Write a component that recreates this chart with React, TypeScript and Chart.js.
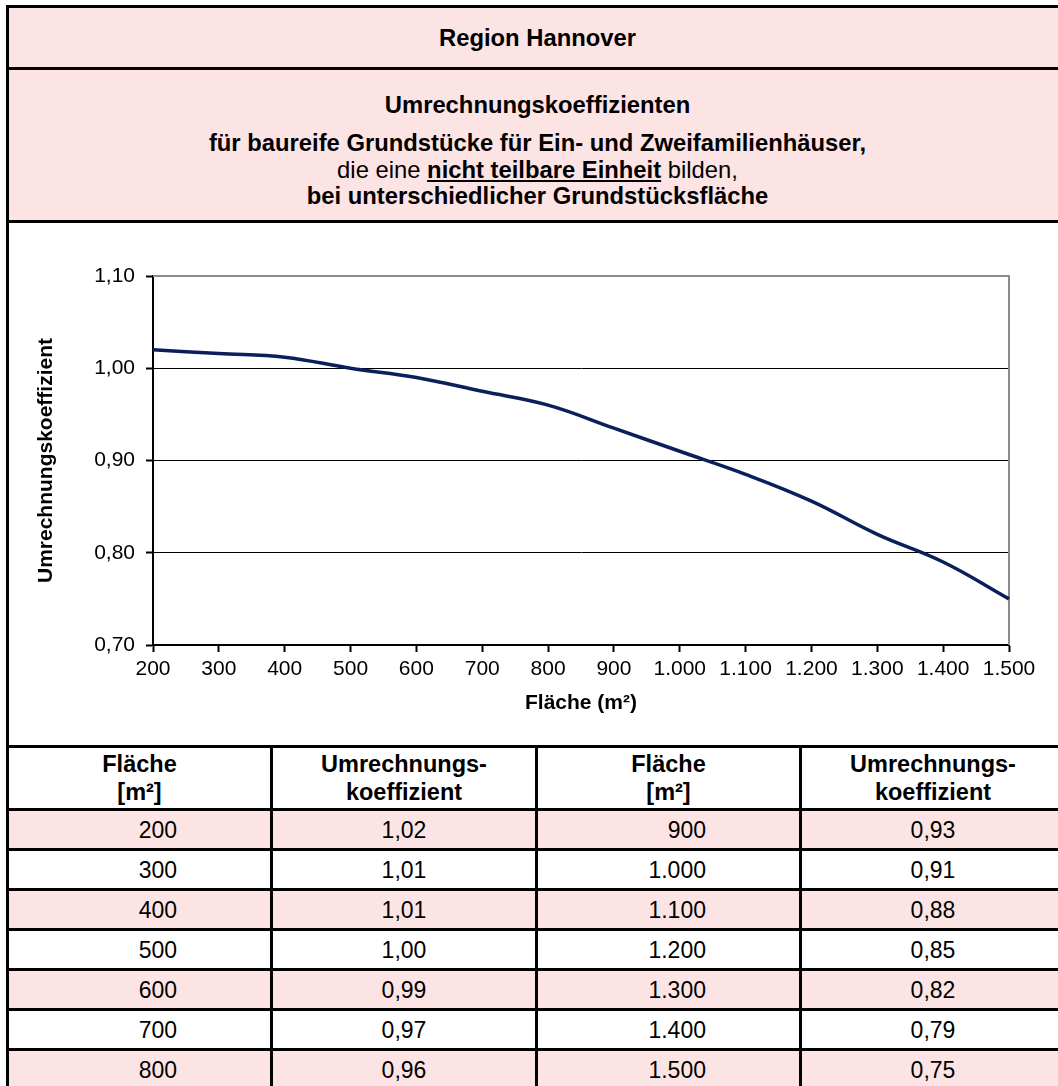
import React, { useEffect, useRef } from "react";
import { Chart, registerables } from "chart.js";

Chart.register(...registerables);

// ---- data ----
const flaeche: number[] = [200, 300, 400, 500, 600, 700, 800, 900, 1000, 1100, 1200, 1300, 1400, 1500];
// values printed in the table
const koeffizientTabelle: number[] = [1.02, 1.01, 1.01, 1.0, 0.99, 0.97, 0.96, 0.93, 0.91, 0.88, 0.85, 0.82, 0.79, 0.75];
// values (unrounded)
const koeffizientKurve: number[] = [1.02, 1.016, 1.012, 1.0, 0.99, 0.975, 0.96, 0.935, 0.91, 0.885, 0.856, 0.82, 0.79, 0.75];
const xRange: number[] = [200, 1500, 100]; // min, max, step
const yRange: number[] = [0.7, 1.1, 0.1]; // min, max, step
const gridValues: number[] = [0.8, 0.9, 1.0];

const titleLine1 = "Region Hannover";
const subtitleLines: string[] = [
  "Umrechnungskoeffizienten",
  "für baureife Grundstücke für Ein- und Zweifamilienhäuser,",
  "bei unterschiedlicher Grundstücksfläche",
];
const xTitle = "Fläche (m²)";
const yTitle = "Umrechnungskoeffizient";

const FONT = "'Liberation Sans', Arial, Helvetica, sans-serif";
const PINK = "#fde4e4";
const LINE = "#0a1f5c";

const fmtThousands = (v: number): string => {
  const s = String(Math.round(v));
  return s.replace(/\B(?=(\d{3})+(?!\d))/g, ".");
};
const fmtDec = (v: number): string => v.toFixed(2).replace(".", ",");

const plotFrame = {
  id: "plotFrame",
  beforeDatasetsDraw(chart: any) {
    const { ctx, chartArea } = chart;
    const { left, right, top, bottom } = chartArea;
    ctx.save();
    ctx.strokeStyle = "#8c8c8c";
    ctx.lineWidth = 2;
    ctx.beginPath();
    ctx.moveTo(left, top);
    ctx.lineTo(right, top);
    ctx.lineTo(right, bottom);
    ctx.stroke();
    ctx.restore();
  },
};

function LineChart() {
  const ref = useRef<HTMLCanvasElement | null>(null);
  useEffect(() => {
    if (!ref.current) return;
    const chart = new Chart(ref.current, {
      type: "line",
      data: {
        datasets: [
          {
            data: flaeche.map((x, i) => ({ x, y: koeffizientKurve[i] })),
            borderColor: LINE,
            borderWidth: 3.5,
            pointRadius: 0,
            tension: 0.4,
            fill: false,
            clip: false as any,
          },
        ],
      },
      options: {
        animation: false,
        responsive: false,
        devicePixelRatio: 1,
        layout: { padding: { left: 0, top: 53, right: 49, bottom: 0 } },
        plugins: { legend: { display: false }, tooltip: { enabled: false } },
        scales: {
          x: {
            type: "linear",
            min: xRange[0],
            max: xRange[1],
            ticks: {
              stepSize: xRange[2],
              autoSkip: false,
              maxRotation: 0,
              color: "#000",
              padding: 5,
              font: { family: FONT, size: 21 },
              callback: (v: any) => fmtThousands(Number(v)),
            },
            grid: {
              drawOnChartArea: false,
              drawTicks: true,
              tickLength: 7,
              tickColor: "#000",
              tickWidth: 2,
            },
            border: { color: "#000", width: 2 },
            title: {
              display: true,
              text: xTitle,
              color: "#000",
              font: { family: FONT, size: 21, weight: "bold" },
              padding: { top: 0, bottom: 29 },
            },
            afterFit: (s: any) => {
              s.height = 100;
            },
          },
          y: {
            min: yRange[0],
            max: yRange[1],
            ticks: {
              stepSize: yRange[2],
              color: "#000",
              padding: 11,
              font: { family: FONT, size: 21 },
              callback: (v: any) => fmtDec(Number(v)),
            },
            grid: {
              color: (ctx: any) =>
                gridValues.some((g) => Math.abs(g - ctx.tick.value) < 1e-6) ? "#000" : "rgba(0,0,0,0)",
              lineWidth: 1,
              borderDash: [1, 1],
              tickLength: 7,
              tickColor: "#000",
              tickWidth: 2,
              tickBorderDash: [],
            },
            border: { color: "#000", width: 2 },
            title: {
              display: true,
              text: yTitle,
              color: "#000",
              font: { family: FONT, size: 21, weight: "bold" },
              padding: { top: 25, bottom: 0 },
            },
            afterFit: (s: any) => {
              s.width = 144;
            },
          },
        },
      } as any,
      plugins: [plotFrame],
    });
    return () => chart.destroy();
  }, []);
  return <canvas ref={ref} width={1049} height={522} style={{ display: "block", width: 1049, height: 522 }} />;
}

const colWidths = [264, 265, 264, 265];
const half = Math.ceil(flaeche.length / 2);

function Cell(props: { w: number; bg: string; children: React.ReactNode; numeric?: boolean; header?: boolean; h: number }) {
  const { w, bg, children, numeric, header, h } = props;
  return (
    <div
      style={{
        boxSizing: "border-box",
        width: w,
        height: h,
        borderRight: "3px solid #000",
        background: bg,
        display: "flex",
        flexDirection: "column",
        alignItems: numeric ? "flex-end" : "center",
        justifyContent: "center",
        paddingRight: numeric ? 93 : 0,
        fontWeight: header ? "bold" : "normal",
        fontSize: header ? 23.5 : 23,
        lineHeight: header ? "28px" : "26px",
        textAlign: "center",
        flexShrink: 0,
        whiteSpace: "nowrap",
      }}
    >
      {children}
    </div>
  );
}

export default function App() {
  const rows = [];
  for (let i = 0; i < half; i++) {
    const bg = i % 2 === 0 ? PINK : "#ffffff";
    const j = i + half;
    rows.push(
      <div key={i} style={{ display: "flex", borderBottom: "3px solid #000" }}>
        <Cell w={colWidths[0]} bg={bg} numeric h={37}>{fmtThousands(flaeche[i])}</Cell>
        <Cell w={colWidths[1]} bg={bg} h={37}>{fmtDec(koeffizientTabelle[i])}</Cell>
        <Cell w={colWidths[2]} bg={bg} numeric h={37}>{j < flaeche.length ? fmtThousands(flaeche[j]) : ""}</Cell>
        <Cell w={colWidths[3]} bg={bg} h={37}>{j < koeffizientTabelle.length ? fmtDec(koeffizientTabelle[j]) : ""}</Cell>
      </div>
    );
  }
  const headerCells = (
    <div style={{ display: "flex", borderBottom: "3px solid #000", background: "#fff" }}>
      <Cell w={colWidths[0]} bg="#fff" header h={60}><div>Fläche</div><div>[m²]</div></Cell>
      <Cell w={colWidths[1]} bg="#fff" header h={60}><div>Umrechnungs-</div><div>koeffizient</div></Cell>
      <Cell w={colWidths[2]} bg="#fff" header h={60}><div>Fläche</div><div>[m²]</div></Cell>
      <Cell w={colWidths[3]} bg="#fff" header h={60}><div>Umrechnungs-</div><div>koeffizient</div></Cell>
    </div>
  );

  const lineStyle: React.CSSProperties = { position: "absolute", left: 0, right: 0, lineHeight: "26px", whiteSpace: "nowrap" };

  return (
    <div
      style={{
        position: "absolute",
        left: 0,
        top: 0,
        width: 1058,
        height: 1086,
        overflow: "hidden",
        background: "#fff",
        fontFamily: FONT,
        color: "#000",
      }}
    >
      <div
        style={{
          position: "absolute",
          left: 6,
          top: 5,
          width: 1063,
          borderLeft: "3px solid #000",
          borderTop: "3px solid #000",
          borderRight: "3px solid #000",
          boxSizing: "border-box",
        }}
      >
        <div
          style={{
            height: 59,
            background: PINK,
            borderBottom: "3px solid #000",
            boxSizing: "content-box",
            display: "flex",
            alignItems: "center",
            justifyContent: "center",
            fontWeight: "bold",
            fontSize: 23.8,
          }}
        >
          {titleLine1}
        </div>
        <div
          style={{
            height: 150,
            background: PINK,
            borderBottom: "3px solid #000",
            boxSizing: "content-box",
            textAlign: "center",
            fontSize: 23.8,
            position: "relative",
          }}
        >
          <div style={{ ...lineStyle, top: 22, fontWeight: "bold" }}>{subtitleLines[0]}</div>
          <div style={{ ...lineStyle, top: 60, fontWeight: "bold" }}>{subtitleLines[1]}</div>
          <div style={{ ...lineStyle, top: 87 }}>
            die eine <b style={{ textDecoration: "underline" }}>nicht teilbare Einheit</b> bilden,
          </div>
          <div style={{ ...lineStyle, top: 113, fontWeight: "bold" }}>{subtitleLines[2]}</div>
        </div>
        <div style={{ height: 522, borderBottom: "3px solid #000", background: "#fff" }}>
          <LineChart />
        </div>
        {headerCells}
        {rows}
      </div>
    </div>
  );
}
